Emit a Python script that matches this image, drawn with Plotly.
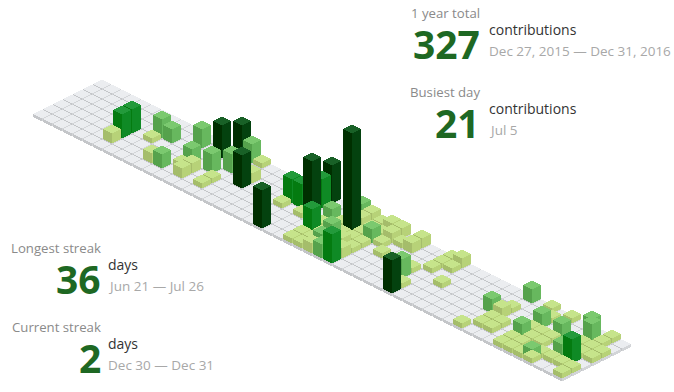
import plotly.graph_objects as go

# 2016 calendar: 53 weeks of 7 days, Dec 27 2015 - Dec 31 2016
N_WEEKS = 53
N_DAYS = 7
MAX_COUNT = 21

weeks = [6,6,6,8,9,8,10,11,11,13,14,17,12,14,15,15,13,13,12,15,15,16,17,22,21,21,22,23,23,23,
         23,25,25,25,25,25,26,26,26,26,26,26,26,27,27,27,27,27,27,27,28,28,28,28,28,28,28,
         29,29,29,29,29,29,29,30,30,30,31,31,32,32,34,34,35,35,35,35,35,36,36,37,
         42,43,42,43,43,44,44,43,43,46,46,45,46,47,50,49,51,51,51,52,52,49,51,48,50,52,52,50,51,
         49,49,46,47,48,46,47,47,47,48,46,48,50,51]
days = [5,4,3,2,2,3,5,5,1,1,0,3,3,3,2,0,5,4,4,5,4,0,2,6,3,2,2,2,1,0,
        3,2,3,4,5,6,0,1,2,3,4,5,6,0,1,2,3,4,5,6,0,1,2,3,4,5,6,
        0,1,2,3,4,5,6,0,1,2,1,3,0,1,4,3,6,5,2,1,0,0,1,3,
        6,0,3,3,2,5,4,5,4,4,2,0,1,0,1,0,0,1,2,2,3,6,4,2,4,6,5,5,5,
        5,6,6,6,6,5,5,4,3,4,3,3,2,3]
counts = [2,5,5,4,3,1,2,3,4,7,7,7,3,4,4,4,2,2,1,1,1,1,2,8,1,5,5,11,6,8,
          1,3,1,5,1,1,3,1,1,1,1,1,1,2,2,21,1,4,3,2,1,1,1,1,2,2,3,
          2,1,3,1,1,2,6,2,2,1,1,1,2,2,4,1,7,1,1,1,1,2,1,1,
          1,3,3,2,1,1,1,1,1,3,3,1,1,1,4,3,1,1,1,1,1,3,5,3,3,1,1,1,1,
          1,1,1,1,1,1,1,1,1,1,1,1,1,1]

stat_labels = ["1 year total", "Busiest day", "Longest streak", "Current streak"]
stat_values = ["327", "21", "36", "2"]
stat_units = ["contributions", "contributions", "days", "days"]
stat_dates = ["Dec 27, 2015 \u2014 Dec 31, 2016", "Jul 5", "Jun 21 \u2014 Jul 26", "Dec 30 \u2014 Dec 31"]

# Style
TILE = ("#ebedf0", "#c4c6c9", "#d3d5d8")
LEVELS = [("#c6e48b", "#a5bd6b", "#b7d278"),
          ("#7bc96f", "#55a24c", "#67b85e"),
          ("#239a3b", "#047b10", "#0f8a25"),
          ("#196127", "#002f00", "#04420f")]
GREEN = "#1e6823"
FONT = "Open Sans"
OX, OY, STEP, FOOT = 102.0, 79.5, 10.0, 0.9


def level(c):
    return 0 if c <= 2 else 1 if c <= 4 else 2 if c <= 6 else 3


def project(w, d, z=0.0):
    return OX + STEP * (w - d), OY + STEP / 2 * (w + d) - z


def faces(w, d, z0, z1):
    e = FOOT
    t = [project(w, d, z1), project(w + e, d, z1), project(w + e, d + e, z1), project(w, d + e, z1)]
    left = [project(w, d + e, z1), project(w + e, d + e, z1), project(w + e, d + e, z0), project(w, d + e, z0)]
    right = [project(w + e, d, z1), project(w + e, d + e, z1), project(w + e, d + e, z0), project(w + e, d, z0)]
    return t, left, right


def merged(polys, color):
    xs, ys = [], []
    for pts in polys:
        xs += [p[0] for p in pts] + [pts[0][0], None]
        ys += [p[1] for p in pts] + [pts[0][1], None]
    return go.Scatter(x=xs, y=ys, mode="lines", fill="toself", fillcolor=color,
                      line=dict(color=color, width=0), hoverinfo="skip", showlegend=False)


fig = go.Figure()

for s in range(N_WEEKS + N_DAYS - 1):
    tops, lefts, rights = [], [], []
    for d in range(N_DAYS):
        w = s - d
        if 0 <= w < N_WEEKS:
            t, l, r = faces(w, d, -3.0, 0.0)
            tops.append(t); lefts.append(l); rights.append(r)
    fig.add_trace(merged(lefts, TILE[1]))
    fig.add_trace(merged(rights, TILE[2]))
    fig.add_trace(merged(tops, TILE[0]))

for w, d, c in sorted(zip(weeks, days, counts), key=lambda q: (q[0] + q[1], q[0])):
    h = round(100 / MAX_COUNT * c)
    t, l, r = faces(w, d, 0.0, float(h))
    col = LEVELS[level(c)]
    fig.add_trace(merged([l], col[1]))
    fig.add_trace(merged([r], col[2]))
    fig.add_trace(merged([t], col[0]))

LABEL, UNIT, DATE = "#8a8a8a", "#333333", "#a8a8a8"


def txt(x, y, s, size, color, anchor="left", bold=False):
    fig.add_annotation(x=x, y=y, xref="x", yref="y", text=f"<b>{s}</b>" if bold else s, showarrow=False,
                       xanchor=anchor, yanchor="middle", align=anchor,
                       font=dict(family=FONT, size=size, color=color))


anchors = [(482, 13, 5), (482, 92, 5), (103, 248, 3), (103, 327, 3)]
for (x, y, gap), lab, val, unit, date in zip(anchors, stat_labels, stat_values, stat_units, stat_dates):
    txt(x, y, lab, 13.2, LABEL, "right")
    txt(x, y + 30, val, 39, GREEN, "right", True)
    txt(x + gap, y + 16.5, unit, 14, UNIT)
    txt(x + gap, y + 38, date, 13.5, DATE)

fig.update_layout(width=674, height=392, margin=dict(l=0, r=0, t=0, b=0),
                  paper_bgcolor="#ffffff", plot_bgcolor="#ffffff", showlegend=False,
                  xaxis=dict(range=[0, 674], visible=False, fixedrange=True),
                  yaxis=dict(range=[392, 0], visible=False, fixedrange=True))
fig.write_html("out.html", config={"displayModeBar": False},
               post_script="document.body.style.margin='0';document.body.style.overflow='hidden';"
                           "document.querySelectorAll('.scatterlayer path').forEach(function(p){p.style.shapeRendering='crispEdges';});")
